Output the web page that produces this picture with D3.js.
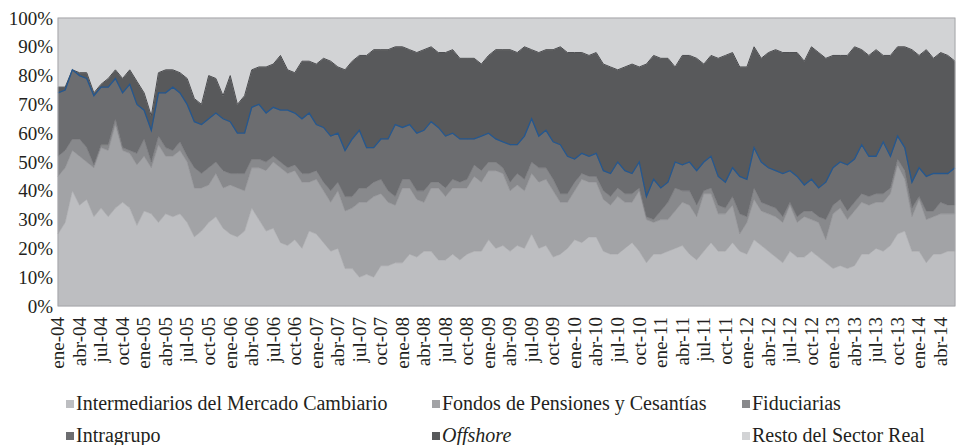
<!DOCTYPE html>
<html>
<head>
<meta charset="utf-8">
<script src="https://cdn.jsdelivr.net/npm/d3@7"></script>
<style>
  body { margin: 0; background: #fff; }
  svg { display: block; }
</style>
</head>
<body>
<svg id="chart" width="956" height="445"></svg>
<script>
// meses y años del eje X (ene-04 ... jun-14)
const meses = ['ene', 'feb', 'mar', 'abr', 'may', 'jun', 'jul', 'ago', 'sep', 'oct', 'nov', 'dic'];
const anios = ['04', '05', '06', '07', '08', '09', '10', '11', '12', '13', '14'];
const nPeriodos = 126;

// participación (%) de cada sector
const intermediarios = [
  25, 29, 40, 35, 37, 31, 34, 31, 34, 36, 34, 28, 33, 32, 29, 32, 31, 32,
  29, 24, 26, 29, 31, 27, 25, 24, 26, 34, 30, 26, 27, 22, 21, 23, 20,
  26, 25, 22, 19, 20, 13, 13, 10, 11, 10, 14, 14, 15, 15, 18, 17, 19, 19,
  16, 16, 18, 16, 18, 19, 19, 23, 20, 21, 19, 21, 20, 25, 20, 21, 17, 18,
  20, 23, 22, 24, 24, 19, 18, 18, 20, 22, 19, 15, 18, 18, 19, 20, 21,
  18, 16, 19, 22, 19, 19, 22, 19, 18, 23, 21, 19, 17, 15, 19, 17, 17, 19,
  17, 15, 13, 14, 13, 14, 18, 18, 20, 19, 21, 25, 26, 19, 19, 15, 18, 18, 19, 19
];
const fondos = [
  20, 19, 14, 17, 13, 17, 21, 23, 29, 18, 19, 21, 19, 16, 27, 20, 21, 22,
  21, 17, 15, 13, 15, 14, 17, 17, 14, 14, 18, 21, 23, 26, 25, 24, 23,
  17, 19, 18, 17, 20, 20, 21, 26, 25, 28, 25, 22, 20, 26, 23, 20, 17, 22,
  25, 22, 23, 25, 23, 26, 24, 24, 27, 25, 21, 21, 20, 21, 23, 23, 23, 18,
  16, 17, 22, 19, 19, 18, 17, 20, 16, 14, 21, 15, 11, 12, 11, 13, 15,
  17, 15, 20, 17, 13, 13, 13, 6, 11, 14, 12, 13, 14, 14, 16, 12, 14, 11,
  12, 8, 19, 20, 17, 19, 18, 17, 16, 17, 18, 24, 18, 12, 18, 15, 13, 14, 13, 13
];
const fiduciarias = [
  7, 6, 4, 6, 5, 1, 1, 2, 2, 1, 1, 4, 6, 2, 3, 3, 2, 3,
  2, 7, 5, 6, 4, 6, 4, 5, 6, 3, 3, 3, 2, 2, 2, 2, 3,
  3, 3, 3, 4, 3, 5, 4, 5, 5, 5, 5, 4, 3, 3, 3, 3, 4, 2,
  2, 3, 3, 2, 3, 4, 4, 3, 3, 2, 3, 4, 4, 4, 5, 4, 4, 3,
  3, 3, 2, 2, 2, 3, 3, 3, 3, 3, 1, 1, 1, 3, 6, 8, 4,
  5, 4, 1, 2, 3, 2, 3, 7, 2, 4, 3, 3, 3, 2, 1, 2, 2, 3,
  2, 7, 3, 3, 3, 3, 3, 3, 3, 3, 2, 2, 3, 3, 1, 3, 2, 4, 3, 3
];
const intragrupo = [
  22, 21, 24, 22, 24, 24, 20, 20, 14, 19, 23, 17, 10, 11, 15, 19, 22, 17,
  18, 16, 17, 17, 17, 18, 18, 14, 14, 18, 19, 17, 17, 18, 20, 18, 19,
  21, 16, 19, 19, 17, 16, 20, 20, 14, 12, 14, 18, 25, 18, 19, 20, 21, 21,
  19, 18, 16, 15, 14, 9, 12, 10, 8, 9, 13, 10, 15, 15, 11, 13, 13, 17,
  13, 8, 7, 7, 8, 7, 8, 9, 8, 7, 9, 7, 14, 8, 7, 9, 9,
  10, 12, 10, 11, 10, 9, 10, 13, 13, 14, 14, 13, 13, 15, 11, 14, 9, 11,
  10, 13, 13, 13, 16, 15, 17, 14, 13, 18, 11, 8, 8, 9, 10, 12, 13, 10, 11, 13
];
const offshore = [
  2, 1, 0, 1, 2, 1, 1, 3, 3, 5, 5, 8, 6, 5, 7, 8, 6, 7,
  9, 8, 7, 15, 12, 8, 16, 10, 13, 13, 13, 16, 15, 19, 14, 14, 20,
  18, 21, 24, 26, 23, 28, 27, 26, 32, 34, 31, 31, 27, 28, 26, 28, 28, 26,
  26, 29, 29, 28, 28, 28, 25, 27, 31, 32, 33, 32, 31, 24, 29, 28, 32, 34,
  36, 37, 35, 35, 35, 37, 37, 32, 36, 38, 33, 46, 43, 45, 43, 33, 38,
  37, 39, 34, 35, 41, 44, 40, 38, 39, 35, 36, 40, 42, 42, 41, 43, 43, 46,
  47, 43, 39, 37, 38, 39, 33, 35, 37, 30, 35, 31, 35, 46, 39, 44, 40, 42, 41, 37
];
const resto = [
  24, 24, 18, 19, 19, 26, 23, 21, 18, 21, 18, 22, 26, 34, 19, 18, 18, 19,
  21, 28, 30, 20, 21, 27, 20, 30, 27, 18, 17, 17, 16, 13, 18, 19, 15,
  15, 16, 14, 15, 17, 18, 15, 13, 13, 11, 11, 11, 10, 10, 11, 12, 11, 10,
  12, 12, 11, 14, 14, 14, 16, 13, 11, 11, 11, 12, 10, 11, 12, 11, 11, 10,
  12, 12, 12, 13, 12, 16, 17, 18, 17, 16, 17, 16, 13, 14, 14, 17, 13,
  13, 14, 16, 13, 14, 13, 12, 17, 17, 10, 14, 12, 11, 12, 12, 12, 15, 10,
  12, 14, 13, 13, 13, 10, 11, 13, 11, 13, 13, 10, 10, 11, 13, 11, 14, 12, 13, 15
];

const yTicks = [0, 10, 20, 30, 40, 50, 60, 70, 80, 90, 100];

const series = [
  { key: 'inter', name: 'Intermediarios del Mercado Cambiario', values: intermediarios, color: '#bdbec1' },
  { key: 'fondos', name: 'Fondos de Pensiones y Cesantías', values: fondos, color: '#a2a3a6' },
  { key: 'fidu', name: 'Fiduciarias', values: fiduciarias, color: '#88898c' },
  { key: 'intra', name: 'Intragrupo', values: intragrupo, color: '#6c6d70' },
  { key: 'off', name: 'Offshore', values: offshore, color: '#58595b', italic: true },
  { key: 'resto', name: 'Resto del Sector Real', values: resto, color: '#d2d3d5' }
];

// categorías ene-04 ... jun-14
const categorias = [];
anios.forEach(a => meses.forEach(m => {
  if (categorias.length < nPeriodos) categorias.push(m + '-' + a);
}));

const tabla = categorias.map((c, i) => {
  const row = { cat: c };
  series.forEach(s => { row[s.key] = s.values[i]; });
  return row;
});

const margin = { left: 58, right: 1, top: 18, bottom: 139 };
const width = 956, height = 445;
const fuente = '"Liberation Serif"';
const svg = d3.select('#chart');

const x = d3.scalePoint().domain(categorias).range([margin.left, width - margin.right]);
const y = d3.scaleLinear().domain([0, 100]).range([height - margin.bottom, margin.top]);

const stack = d3.stack().keys(series.map(s => s.key));
const capas = stack(tabla);

const area = d3.area()
  .x(d => x(d.data.cat))
  .y0(d => y(d[0]))
  .y1(d => y(d[1]));

svg.append('g').selectAll('path')
  .data(capas)
  .enter().append('path')
    .attr('d', area)
    .attr('fill', (d, i) => series[i].color)
    .attr('stroke', (d, i) => series[i].color)
    .attr('stroke-width', 0.5);

// borde superior de Offshore
const linea = d3.line().x(d => x(d.data.cat)).y(d => y(d[1]));
svg.append('path')
  .attr('d', linea(capas[4]))
  .attr('fill', 'none')
  .attr('stroke', '#4a4b4e')
  .attr('stroke-width', 1);

// línea azul sobre Intragrupo
svg.append('path')
  .attr('d', linea(capas[3]))
  .attr('fill', 'none')
  .attr('stroke', '#24578f')
  .attr('stroke-width', 1.3);

// marco del área de trazado
svg.append('rect')
  .attr('x', margin.left).attr('y', margin.top)
  .attr('width', width - margin.right - margin.left)
  .attr('height', y(0) - margin.top)
  .attr('fill', 'none')
  .attr('stroke', '#a5a6a9')
  .attr('stroke-width', 1);

// eje Y
svg.append('g').selectAll('text')
  .data(yTicks)
  .enter().append('text')
    .attr('x', 53)
    .attr('y', d => y(d))
    .attr('dy', '0.35em')
    .attr('text-anchor', 'end')
    .style('font-family', fuente)
    .style('font-size', '19px')
    .attr('fill', '#231f20')
    .text(d => d + '%');

// eje X: cada tres meses
const etiquetasX = categorias.filter((c, i) => i % 3 === 0);
svg.append('g').selectAll('text')
  .data(etiquetasX)
  .enter().append('text')
    .attr('transform', d => 'translate(' + x(d) + ',' + (y(0) + 11) + ') rotate(-90)')
    .attr('dy', '0.33em')
    .attr('text-anchor', 'end')
    .style('font-family', fuente)
    .style('font-size', '19px')
    .attr('fill', '#231f20')
    .text(d => d);

// leyenda
const legX = [66, 432, 742];
const legY = [403, 435];
const leg = svg.append('g').selectAll('g')
  .data(series)
  .enter().append('g')
    .attr('transform', (d, i) => 'translate(' + legX[i % 3] + ',' + legY[Math.floor(i / 3)] + ')');

leg.append('rect')
  .attr('x', 0).attr('y', -3)
  .attr('width', 8).attr('height', 8)
  .attr('fill', d => d.color);

leg.append('text')
  .attr('x', 10)
  .attr('y', 0)
  .attr('dy', '0.35em')
  .style('font-family', fuente)
  .style('font-size', '20px')
  .style('font-style', d => d.italic ? 'italic' : 'normal')
  .attr('fill', '#231f20')
  .text(d => d.name);
</script>
</body>
</html>
